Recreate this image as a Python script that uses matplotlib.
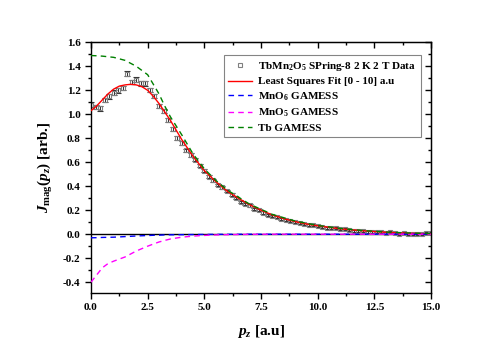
import matplotlib
matplotlib.use("Agg")
import matplotlib.pyplot as plt
from matplotlib.lines import Line2D
from matplotlib.ticker import MultipleLocator, FormatStrFormatter

# measured data (TbMn2O5, SPring-8)
pz_data = [0.0, 0.2, 0.4, 0.6, 0.8, 1.0, 1.2, 1.4, 1.6, 1.8, 2.0, 2.2, 2.4, 2.6, 2.8,
           3.0, 3.2, 3.4, 3.6, 3.8, 4.0, 4.2, 4.4, 4.6, 4.8, 5.0, 5.2, 5.4, 5.6, 5.8,
           6.0, 6.2, 6.4, 6.6, 6.8, 7.0, 7.2, 7.4, 7.6, 7.8, 8.0, 8.2, 8.4, 8.6, 8.8,
           9.0, 9.2, 9.4, 9.6, 9.8, 10.0, 10.2, 10.4, 10.6, 10.8, 11.0, 11.2, 11.4,
           11.6, 11.8, 12.0, 12.2, 12.4, 12.6, 12.8, 13.0, 13.2, 13.4, 13.6, 13.8,
           14.0, 14.2, 14.4, 14.6, 14.8, 15.0]
j_data = [1.08, 1.06, 1.05, 1.12, 1.15, 1.18, 1.20, 1.22, 1.34, 1.27, 1.29, 1.26, 1.26,
          1.20, 1.15, 1.07, 1.03, 0.95, 0.88, 0.80, 0.76, 0.70, 0.66, 0.62, 0.57, 0.53,
          0.48, 0.45, 0.41, 0.39, 0.36, 0.33, 0.30, 0.27, 0.25, 0.24, 0.21, 0.20, 0.18,
          0.16, 0.15, 0.14, 0.13, 0.12, 0.11, 0.10, 0.095, 0.085, 0.08, 0.075, 0.07,
          0.06, 0.055, 0.05, 0.05, 0.045, 0.04, 0.035, 0.03, 0.03, 0.025, 0.02, 0.02,
          0.015, 0.02, 0.01, 0.015, 0.01, 0.005, 0.01, 0.005, 0.0, 0.005, 0.0, 0.01, 0.01]
j_err = [0.02, 0.02, 0.02, 0.02, 0.02, 0.02, 0.02, 0.02, 0.02, 0.02, 0.02, 0.02, 0.02,
         0.018, 0.018, 0.018, 0.016, 0.016, 0.016, 0.015, 0.015, 0.014, 0.014, 0.013,
         0.013, 0.012, 0.012, 0.012, 0.011, 0.011, 0.011, 0.01, 0.01, 0.01, 0.01, 0.01,
         0.01, 0.01, 0.01, 0.01, 0.009, 0.009, 0.009, 0.009, 0.009, 0.009, 0.009, 0.009,
         0.009, 0.009, 0.008, 0.008, 0.008, 0.008, 0.008, 0.008, 0.008, 0.008, 0.008,
         0.008, 0.008, 0.008, 0.008, 0.008, 0.008, 0.008, 0.008, 0.008, 0.008, 0.008,
         0.008, 0.008, 0.008, 0.008, 0.008, 0.008]

# least squares fit
pz_fit = [0.0, 0.25, 0.5, 0.75, 1.0, 1.25, 1.5, 1.75, 2.0, 2.25, 2.5, 2.75, 3.0, 3.25,
          3.5, 3.75, 4.0, 4.5, 5.0, 5.5, 6.0, 6.5, 7.0, 7.5, 8.0, 8.5, 9.0, 9.5, 10.0,
          11.0, 12.0, 13.0, 14.0, 15.0]
j_fit = [1.03, 1.07, 1.12, 1.17, 1.21, 1.235, 1.245, 1.25, 1.245, 1.23, 1.20, 1.15,
         1.09, 1.02, 0.95, 0.87, 0.79, 0.65, 0.53, 0.44, 0.36, 0.30, 0.245, 0.20, 0.16,
         0.13, 0.105, 0.085, 0.07, 0.045, 0.028, 0.016, 0.008, 0.003]

# GAMESS calculations
pz_calc = [0.0, 0.25, 0.5, 0.75, 1.0, 1.5, 2.0, 2.5, 2.75, 3.0, 3.25, 3.5, 4.0, 4.5,
           5.0, 5.5, 6.0, 7.0, 8.0, 9.0, 10.0, 11.0, 12.0, 13.0, 14.0, 15.0]
j_mno6 = [-0.03, -0.029, -0.027, -0.026, -0.025, -0.02, -0.015, -0.011, -0.009, -0.008,
          -0.006, -0.005, -0.004, -0.003, -0.002, -0.0015, -0.001, 0.0, 0.0, 0.0, 0.0,
          0.0, 0.0, 0.0, 0.0, 0.0]
j_mno5 = [-0.40, -0.34, -0.28, -0.245, -0.225, -0.19, -0.14, -0.10, -0.082, -0.065,
          -0.052, -0.04, -0.025, -0.016, -0.01, -0.006, -0.004, -0.001, 0.0, 0.0, 0.0,
          0.0, 0.0, 0.0, 0.0, 0.0]
j_tb = [1.49, 1.488, 1.485, 1.48, 1.475, 1.45, 1.40, 1.33, 1.25, 1.17, 1.07, 0.98, 0.83,
        0.67, 0.545, 0.45, 0.37, 0.25, 0.165, 0.11, 0.073, 0.048, 0.03, 0.018, 0.01,
        0.005]

plt.rcParams["font.family"] = "Liberation Serif"
plt.rcParams["font.weight"] = "bold"
plt.rcParams["mathtext.fontset"] = "custom"
plt.rcParams["mathtext.rm"] = "Liberation Serif:bold"
plt.rcParams["mathtext.it"] = "Liberation Serif:italic:bold"
plt.rcParams["mathtext.bf"] = "Liberation Serif:bold"

fig = plt.figure(figsize=(5, 3.5), dpi=100)
ax = fig.add_axes([0.182, 0.163, 0.68, 0.716])

dash = (0, (4, 3))
ax.axhline(0.0, color="black", linewidth=1.0, zorder=1)
ax.errorbar(pz_data, j_data, yerr=j_err, fmt="s", ms=3.5, mfc="none", mec="#808080",
            mew=0.8, ecolor="#333333", elinewidth=0.7, capsize=2, capthick=0.7, zorder=2)
h_fit, = ax.plot(pz_fit, j_fit, color="red", lw=1.0, zorder=3)
h_mno6, = ax.plot(pz_calc, j_mno6, color="blue", lw=1.0, ls=dash, zorder=3)
h_mno5, = ax.plot(pz_calc, j_mno5, color="magenta", lw=1.0, ls=dash, zorder=3)
h_tb, = ax.plot(pz_calc, j_tb, color="green", lw=1.0, ls=dash, zorder=3)
h_data = Line2D([], [], ls="none", marker="s", ms=3.5, mfc="none", mec="#808080", mew=0.8)

ax.set_xlim(0, 15)
ax.set_ylim(-0.49, 1.6)
ax.xaxis.set_major_locator(MultipleLocator(2.5))
ax.xaxis.set_minor_locator(MultipleLocator(1.25))
ax.yaxis.set_major_locator(MultipleLocator(0.2))
ax.yaxis.set_minor_locator(MultipleLocator(0.1))
ax.xaxis.set_major_formatter(FormatStrFormatter("%.1f"))
ax.yaxis.set_major_formatter(FormatStrFormatter("%.1f"))
ax.tick_params(which="both", direction="out", labelsize=8, width=1.0)
ax.tick_params(which="major", length=4)
ax.tick_params(which="minor", length=2)
for s in ax.spines.values():
    s.set_linewidth(1.0)

top = ax.secondary_xaxis("top")
top.xaxis.set_major_locator(MultipleLocator(2.5))
top.xaxis.set_minor_locator(MultipleLocator(1.25))
top.tick_params(which="both", direction="in", labeltop=False, width=1.0)
top.tick_params(which="major", length=4)
top.tick_params(which="minor", length=2)
right = ax.secondary_yaxis("right")
right.yaxis.set_major_locator(MultipleLocator(0.2))
right.yaxis.set_minor_locator(MultipleLocator(0.1))
right.tick_params(which="both", direction="in", labelright=False, width=1.0)
right.tick_params(which="major", length=4)
right.tick_params(which="minor", length=2)

for lab in ax.get_xticklabels() + ax.get_yticklabels():
    lab.set_fontweight("bold")

ax.set_xlabel(r"$p_z$ [a.u]", fontsize=11, fontweight="bold", labelpad=8)
ax.set_ylabel(r"$J_{\mathrm{mag}}(p_z)$ [arb.]", fontsize=11, fontweight="bold", labelpad=6)

handles = [h_data, h_fit, h_mno6, h_mno5, h_tb]
labels = [r"TbMn$_2$O$_5$ SPring-8 2 K 2 T Data", "Least Squares Fit [0 - 10] a.u",
          r"MnO$_6$ GAMESS", r"MnO$_5$ GAMESS", "Tb GAMESS"]
leg = ax.legend(handles, labels, loc="upper left", bbox_to_anchor=(0.39, 0.948),
                fontsize=8, frameon=True, fancybox=False, edgecolor="#666666",
                handlelength=2.2, borderpad=0.4, labelspacing=0.35, handletextpad=0.5,
                borderaxespad=0)
leg.get_frame().set_linewidth(0.8)
for t in leg.get_texts():
    t.set_fontweight("bold")

fig.savefig("out.png", dpi=100)
